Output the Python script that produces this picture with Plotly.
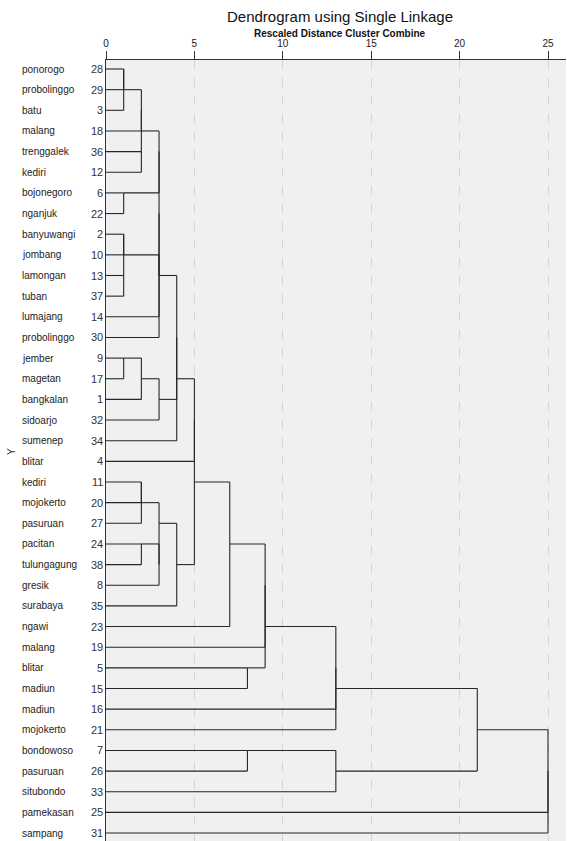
import plotly.graph_objects as go

# ---------------- data ----------------
# case numbers in displayed order and their region names
case_ids = [28, 29, 3, 18, 36, 12, 6, 22, 2, 10, 13, 37, 14, 30, 9, 17, 1, 32, 34, 4,
            11, 20, 27, 24, 38, 8, 35, 23, 19, 5, 15, 16, 21, 7, 26, 33, 25, 31]
region_names = ["ponorogo", "probolinggo", "batu", "malang", "trenggalek", "kediri",
                "bojonegoro", "nganjuk", "banyuwangi", "jombang", "lamongan", "tuban",
                "lumajang", "probolinggo", "jember", "magetan", "bangkalan", "sidoarjo",
                "sumenep", "blitar", "kediri", "mojokerto", "pasuruan", "pacitan",
                "tulungagung", "gresik", "surabaya", "ngawi", "malang", "blitar",
                "madiun", "madiun", "mojokerto", "bondowoso", "pasuruan", "situbondo",
                "pamekasan", "sampang"]

# merge tree: (rescaled distance, left, right); ints are case numbers
A = (2, (2, (1, (1, 28, 29), 3), 18), (2, 36, 12))
G622 = (1, 6, 22)
G2 = (1, (1, 2, 10), (1, 13, 37))
B = (3, (3, (3, A, G622), (3, G2, 14)), 30)
C = (3, (2, (1, 9, 17), 1), 32)
U4 = (4, (4, B, C), 34)
L3 = (3, (2, (2, 11, 20), 27), (3, (2, 24, 38), 8))
L4 = (4, L3, 35)
U5 = (5, (5, U4, 4), L4)
U7 = (7, U5, 23)
U9 = (9, (9, U7, 19), (8, 5, 15))
U13 = (13, (13, U9, 16), 21)
D = (13, (8, 7, 26), 33)
U21 = (21, U13, D)
tree = (25, (25, U21, 25), 31)

x_ticks = [0, 5, 10, 15, 20, 25]

# ---------------- geometry from the tree ----------------
row_of = {c: i + 1 for i, c in enumerate(case_ids)}
xs, ys = [], []


def seg(x0, y0, x1, y1):
    xs.extend([x0, x1, None])
    ys.extend([y0, y1, None])


def walk(node):
    """return (position, height) and draw the vertical + child stems"""
    if isinstance(node, int):
        return row_of[node], 0
    h, left, right = node
    pl, hl = walk(left)
    pr, hr = walk(right)
    seg(hl, pl, h, pl)
    seg(hr, pr, h, pr)
    seg(h, pl, h, pr)
    return (pl + pr) // 2, h


walk(tree)

# ---------------- figure ----------------
W, H = 567, 841
L, R, T, Bm = 106, 1, 60, 0
pw, ph = W - L - R, H - T - Bm
row_px = 20.65
y_top = 1 - 9 / row_px
y_bot = y_top + ph / row_px

fig = go.Figure()
fig.add_trace(go.Scatter(x=xs, y=ys, mode="lines",
                         line=dict(color="#262626", width=1.1),
                         hoverinfo="skip", showlegend=False))

ann = []
def px_x(p):
    return (p - L) / pw

def px_y(p):
    return 1 - (p - T) / ph

for i, (c, n) in enumerate(zip(case_ids, region_names)):
    ann.append(dict(x=px_x(20), y=i + 1, xref="paper", yref="y", text=n,
                    showarrow=False, xanchor="left", yanchor="middle",
                    font=dict(family="Liberation Sans, Arial", size=10, color="#222")))
    ann.append(dict(x=px_x(104.5), y=i + 1, xref="paper", yref="y", text=str(c),
                    showarrow=False, xanchor="right", yanchor="middle",
                    font=dict(family="Liberation Sans, Arial", size=11, color="#333")))

ann.append(dict(x=px_x(340), y=px_y(17), xref="paper", yref="paper",
                text="Dendrogram using Single Linkage", showarrow=False,
                xanchor="center", yanchor="middle",
                font=dict(family="Liberation Sans, Arial", size=15, color="#111")))
ann.append(dict(x=px_x(340), y=px_y(33), xref="paper", yref="paper",
                text="<b>Rescaled Distance Cluster Combine</b>", showarrow=False,
                xanchor="center", yanchor="middle",
                font=dict(family="Liberation Sans, Arial", size=10, color="#111")))
ann.append(dict(x=px_x(11), y=px_y(452), xref="paper", yref="paper",
                text="Y", showarrow=False, textangle=-90,
                xanchor="center", yanchor="middle",
                font=dict(family="Liberation Sans, Arial", size=10, color="#333")))

fig.update_layout(
    width=W, height=H,
    margin=dict(l=L, r=R, t=T, b=Bm, pad=0, autoexpand=False),
    paper_bgcolor="white", plot_bgcolor="#f0f0f0",
    annotations=ann,
    xaxis=dict(range=[0, pw / 17.68], side="top", tickvals=x_ticks,
               ticks="outside", ticklen=8, tickcolor="#333", tickwidth=1,
               showline=True, linecolor="#333", linewidth=1.2,
               showgrid=True, gridcolor="#d4d4d4", griddash="dash", gridwidth=1,
               zeroline=False, automargin=False,
               tickfont=dict(family="Liberation Sans, Arial", size=10, color="#222")),
    yaxis=dict(range=[y_bot, y_top], showticklabels=False, ticks="",
               showline=True, linecolor="#333", linewidth=1.2,
               showgrid=False, zeroline=False, automargin=False),
)

fig.write_html("out.html", config={"displayModeBar": False},
               post_script="document.body.style.margin='0';document.body.style.overflow='hidden';")
